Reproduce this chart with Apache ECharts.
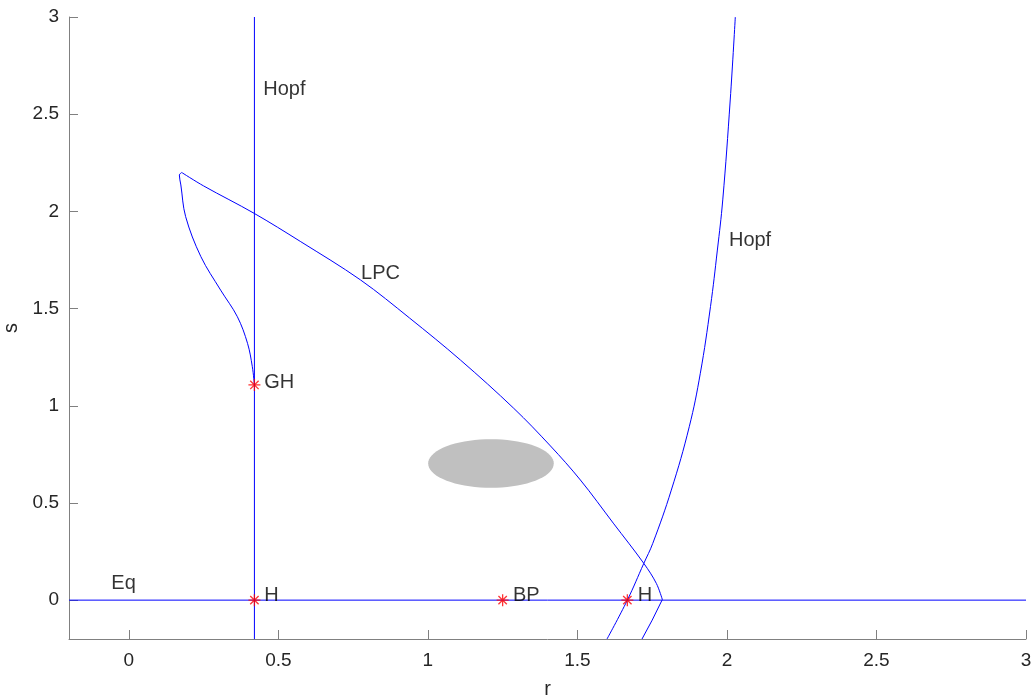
<!DOCTYPE html>
<html>
<head>
<meta charset="utf-8">
<script src="https://cdn.jsdelivr.net/npm/echarts@6/dist/echarts.min.js"></script>
<style>
html,body{margin:0;padding:0;background:#fff;}
#chart{width:1033px;height:698px;}
</style>
</head>
<body>
<div id="chart"></div>
<script>
// ---- data ----
const xTicks = [0, 0.5, 1, 1.5, 2, 2.5, 3];
const yTicks = [0, 0.5, 1, 1.5, 2, 2.5, 3];
const eqLine = [[-0.2, 0], [3, 0]];
const hopfVertical = [[0.42, -0.2], [0.42, 3]];
const hopfCurve = [
  [1.599, -0.2], [1.667, 0], [1.722, 0.189], [1.752, 0.292], [1.814, 0.566],
  [1.874, 0.892], [1.911, 1.167], [1.945, 1.51], [1.968, 1.801], [1.986, 2.059],
  [2.011, 2.573], [2.028, 3.0]
];
// LPC branch, read in three pieces: below the nose, nose to top-left corner, corner down to GH
const lpcLower = [[1.716, -0.2], [1.750, -0.103], [1.784, 0.003]];
const lpcUpper = [
  [1.784, 0.003], [1.764, 0.086], [1.722, 0.189], [1.620, 0.396], [1.510, 0.618],
  [1.410, 0.793], [1.287, 0.987], [1.109, 1.235], [0.939, 1.451], [0.775, 1.647],
  [0.575, 1.844], [0.419, 1.990], [0.250, 2.131], [0.177, 2.200]
];
const lpcLeft = [
  [0.177, 2.200], [0.169, 2.187], [0.174, 2.136], [0.190, 1.973], [0.241, 1.767],
  [0.307, 1.595], [0.363, 1.458], [0.397, 1.321], [0.413, 1.201], [0.42, 1.107]
];
const specialPoints = [[0.42, 1.107], [0.42, 0], [1.25, 0], [1.667, 0]];
const labelX = [0.448, 2.005, 0.775, 0.451, 0.451, 1.283, 1.70, -0.06];
const labelY = [2.625, 1.85, 1.68, 1.12, 0.022, 0.022, 0.022, 0.085];
const labelText = ['Hopf', 'Hopf', 'LPC', 'GH', 'H', 'BP', 'H', 'Eq'];
const blob = { cx: 1.211, cy: 0.703, rx: 0.21, ry: 0.125 };

const FONT = 'Liberation Sans, Arial, sans-serif';
const chart = echarts.init(document.getElementById('chart'), null, {renderer: 'canvas'});

const lineStyle = {color: '#0000ff', width: 1};
const axisCommon = {
  type: 'value', min: -0.2, max: 3,
  axisLine: {show: true, onZero: false, lineStyle: {color: '#808080', width: 1}},
  splitLine: {show: false},
  nameTextStyle: {color: '#262626', fontSize: 20, fontFamily: FONT},
};
function curve(data, smooth) {
  return {type: 'line', data: data, showSymbol: false, smooth: smooth, lineStyle: lineStyle, z: 2};
}

chart.setOption({
  animation: false,
  backgroundColor: '#ffffff',
  grid: {left: 69, right: 7, top: 17, bottom: 59, containLabel: false, outerBoundsMode: 'none'},
  xAxis: Object.assign({}, axisCommon, {
    name: 'r', nameLocation: 'middle', nameGap: 40,
    axisTick: {show: true, inside: true, length: 9, customValues: xTicks, lineStyle: {color: '#808080'}},
    axisLabel: {customValues: xTicks, color: '#262626', fontSize: 19, fontFamily: FONT, margin: 12,
      formatter: v => String(v)}
  }),
  yAxis: Object.assign({}, axisCommon, {
    name: 's', nameLocation: 'middle', nameGap: 43, nameRotate: 90,
    axisTick: {show: true, inside: true, length: 9, customValues: yTicks, lineStyle: {color: '#808080'}},
    axisLabel: {customValues: yTicks, color: '#262626', fontSize: 19, fontFamily: FONT, margin: 10,
      formatter: v => String(v)}
  }),
  series: [
    {
      type: 'custom', z: 1,
      data: [[blob.cx, blob.cy, blob.rx, blob.ry]],
      renderItem: function (params, api) {
        const cx = api.value(0), cy = api.value(1), rx = api.value(2), ry = api.value(3);
        const pts = [];
        for (let i = 0; i < 72; i++) {
          const t = i / 72 * Math.PI * 2;
          pts.push(api.coord([cx + rx * Math.cos(t), cy + ry * Math.sin(t)]));
        }
        return {type: 'polygon', shape: {points: pts}, style: {fill: '#c0c0c0', stroke: null}};
      },
      silent: true
    },
    curve(eqLine, false),
    curve(hopfVertical, false),
    curve(hopfCurve, 0.4),
    curve(lpcLower, false),
    curve(lpcUpper, 0.35),
    curve(lpcLeft, 0.35),
    {
      type: 'scatter', data: specialPoints, z: 3,
      symbol: 'path://M0,5 L10,5 M5,0 L5,10 M1.5,1.5 L8.5,8.5 M8.5,1.5 L1.5,8.5',
      symbolSize: 12,
      itemStyle: {color: 'rgba(0,0,0,0)', borderColor: '#ff0000', borderWidth: 1.3}
    },
    {
      type: 'scatter', z: 4, symbolSize: 1,
      itemStyle: {color: 'rgba(0,0,0,0)'},
      data: labelText.map((t, i) => ({value: [labelX[i], labelY[i]], name: t})),
      label: {show: true, position: 'right', distance: 0, formatter: p => p.name,
        color: '#000000', fontSize: 20, fontFamily: FONT}
    }
  ]
});
</script>
</body>
</html>
